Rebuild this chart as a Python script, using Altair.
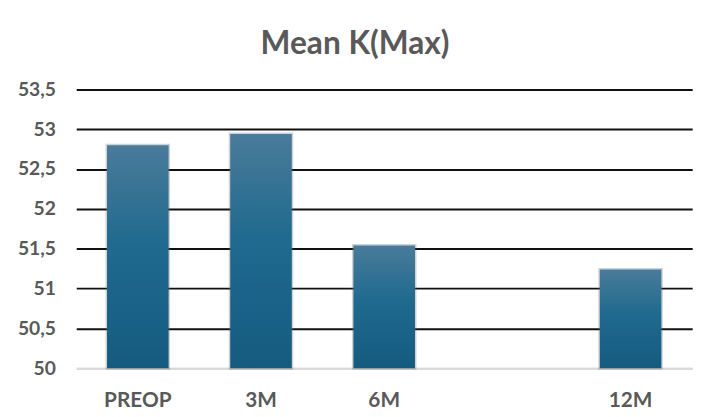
import altair as alt
import pandas as pd

categories = ["PREOP", "3M", "6M", " ", "12M"]
values = [52.8, 52.94, 51.54, None, 51.24]
y_ticks = [50, 50.5, 51, 51.5, 52, 52.5, 53, 53.5]
title_text = "Mean K(Max)"

df = pd.DataFrame({"cat": categories, "val": values})

FONT = "Lato"
GREY = "#595959"

x_enc = alt.X(
    "cat:N",
    sort=categories,
    scale=alt.Scale(domain=categories, paddingInner=0.5, paddingOuter=0.25),
    axis=alt.Axis(
        title=None, labelAngle=0, ticks=False, domainColor="#d9d9d9", domainWidth=2,
        labelFont=FONT, labelFontSize=21, labelFontWeight="bold", labelColor=GREY,
        labelPadding=22,
    ),
)
y_enc = alt.Y(
    "val:Q",
    scale=alt.Scale(domain=[50, 53.5], nice=False, zero=False),
    axis=alt.Axis(
        title=None, values=y_ticks, domain=False, ticks=False,
        labelExpr="replace(format(datum.value, '.1~f'), '.', ',')",
        labelFont=FONT, labelFontSize=19.5, labelFontWeight="bold", labelColor=GREY,
        labelPadding=21,
        gridColor={"condition": {"test": "datum.value === 50", "value": "#d9d9d9"}, "value": "#111111"},
        gridWidth=2,
    ),
)
y2_enc = alt.Y2(datum=50)

shadow = alt.Chart(df).mark_bar(
    fillOpacity=0.0, stroke="#6a6a6a", strokeWidth=3, strokeOpacity=0.3
).encode(x=x_enc, y=y_enc, y2=y2_enc)

bars = alt.Chart(df).mark_bar(
    color=alt.Gradient(
        gradient="linear",
        x1=0, y1=0, x2=0, y2=1,
        stops=[
            alt.GradientStop(color="#4a7b9a", offset=0),
            alt.GradientStop(color="#1f6a8e", offset=0.45),
            alt.GradientStop(color="#155b80", offset=1),
        ],
    )
).encode(x=x_enc, y=y_enc, y2=y2_enc)

title = alt.Chart(alt.Data(values=[{}])).mark_text(
    text=title_text, font=FONT, fontSize=32, fontWeight="bold", color=GREY,
    align="center", baseline="alphabetic",
).encode(x=alt.value(282), y=alt.value(-36))

chart = alt.layer(shadow, bars, title).properties(
    width=623, height=282,
    autosize=alt.AutoSizeParams(type="none"),
    padding={"left": 69, "top": 80, "right": 15, "bottom": 47},
    background="white",
).configure_view(stroke=None)

chart.save("out.html", embed_options={"renderer": "svg", "actions": False})
